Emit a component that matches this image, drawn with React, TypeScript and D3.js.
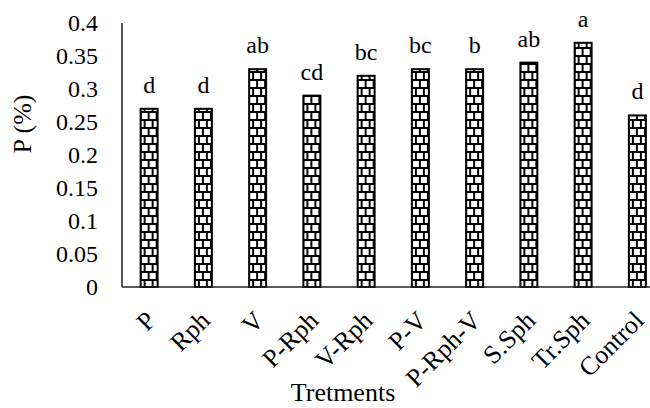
import { useEffect, useRef } from "react";
import * as d3 from "d3";

const categories = ["P", "Rph", "V", "P-Rph", "V-Rph", "P-V", "P-Rph-V", "S.Sph", "Tr.Sph", "Control"];
const values = [0.27, 0.27, 0.33, 0.29, 0.32, 0.33, 0.33, 0.34, 0.37, 0.26];
const letters = ["d", "d", "ab", "cd", "bc", "bc", "b", "ab", "a", "d"];
const yTicks = [0, 0.05, 0.1, 0.15, 0.2, 0.25, 0.3, 0.35, 0.4];

const FONT = "Liberation Serif, DejaVu Serif, Times New Roman, serif";

export default function App() {
  const svgRef = useRef<SVGSVGElement>(null);

  useEffect(() => {
    if (!svgRef.current) return;
    const svg = d3.select(svgRef.current);
    svg.selectAll("*").remove();

    const x = d3
      .scaleBand<string>()
      .domain(categories)
      .range([122, 664.5])
      .paddingInner(0.687)
      .paddingOuter(0.3435);
    const y = d3.scaleLinear().domain([0, 0.4]).range([287, 23]);

    svg.append("rect").attr("width", 650).attr("height", 408).attr("fill", "#fff");

    // brick pattern, one per bar so it lines up with each bar's left edge
    const defs = svg.append("defs");
    categories.forEach((c, i) => {
      const p = defs
        .append("pattern")
        .attr("id", `brick-${i}`)
        .attr("patternUnits", "userSpaceOnUse")
        .attr("x", x(c)!)
        .attr("y", y(0))
        .attr("width", 8)
        .attr("height", 16);
      p.append("rect").attr("width", 8).attr("height", 16).attr("fill", "#fff");
      p.append("rect").attr("x", 0).attr("y", 0).attr("width", 8).attr("height", 2).attr("fill", "#000");
      p.append("rect").attr("x", 0).attr("y", 8).attr("width", 8).attr("height", 2).attr("fill", "#000");
      p.append("rect").attr("x", -1).attr("y", 0).attr("width", 2).attr("height", 8).attr("fill", "#000");
      p.append("rect").attr("x", 7).attr("y", 0).attr("width", 2).attr("height", 8).attr("fill", "#000");
      p.append("rect").attr("x", 3).attr("y", 8).attr("width", 2).attr("height", 8).attr("fill", "#000");
    });

    const g = svg.append("g").style("font-family", FONT);

    g.selectAll("rect.bar")
      .data(values)
      .join("rect")
      .attr("class", "bar")
      .attr("x", (_, i) => x(categories[i])!)
      .attr("y", (d) => y(d))
      .attr("width", x.bandwidth())
      .attr("height", (d) => y(0) - y(d))
      .attr("fill", (_, i) => `url(#brick-${i})`)
      .attr("stroke", "#000")
      .attr("stroke-width", 2);

    // significance letters
    g.selectAll("text.letter")
      .data(letters)
      .join("text")
      .attr("class", "letter")
      .attr("x", (_, i) => x(categories[i])! + x.bandwidth() / 2)
      .attr("y", (_, i) => y(values[i]) - 16)
      .attr("text-anchor", "middle")
      .attr("font-size", 24)
      .text((d) => d);

    // axis lines
    g.append("line")
      .attr("x1", 122)
      .attr("x2", 122)
      .attr("y1", y(0.4))
      .attr("y2", y(0))
      .attr("stroke", "#222")
      .attr("stroke-width", 1.5);
    g.append("line")
      .attr("x1", 122)
      .attr("x2", 664.5)
      .attr("y1", y(0))
      .attr("y2", y(0))
      .attr("stroke", "#222")
      .attr("stroke-width", 1.5);

    // y tick labels
    g.selectAll("text.ytick")
      .data(yTicks)
      .join("text")
      .attr("class", "ytick")
      .attr("x", 98)
      .attr("y", (d) => y(d))
      .attr("dy", "0.35em")
      .attr("text-anchor", "end")
      .attr("font-size", 24)
      .text((d) => String(d));

    // category labels, rotated
    g.selectAll("text.xtick")
      .data(categories)
      .join("text")
      .attr("class", "xtick")
      .attr("transform", (d) => `translate(${x(d)! + x.bandwidth() / 2 + 8},${322}) rotate(-45)`)
      .attr("text-anchor", "end")
      .attr("font-size", 26)
      .text((d) => d);

    g.append("text")
      .attr("x", 343)
      .attr("y", 401)
      .attr("text-anchor", "middle")
      .attr("font-size", 26)
      .text("Tretments");

    g.append("text")
      .attr("transform", "translate(22,124) rotate(-90)")
      .attr("dy", "0.35em")
      .attr("text-anchor", "middle")
      .attr("font-size", 26)
      .text("P (%)");
  }, []);

  return (
    <svg
      ref={svgRef}
      width={650}
      height={408}
      style={{ position: "absolute", left: 0, top: 0 }}
    />
  );
}
